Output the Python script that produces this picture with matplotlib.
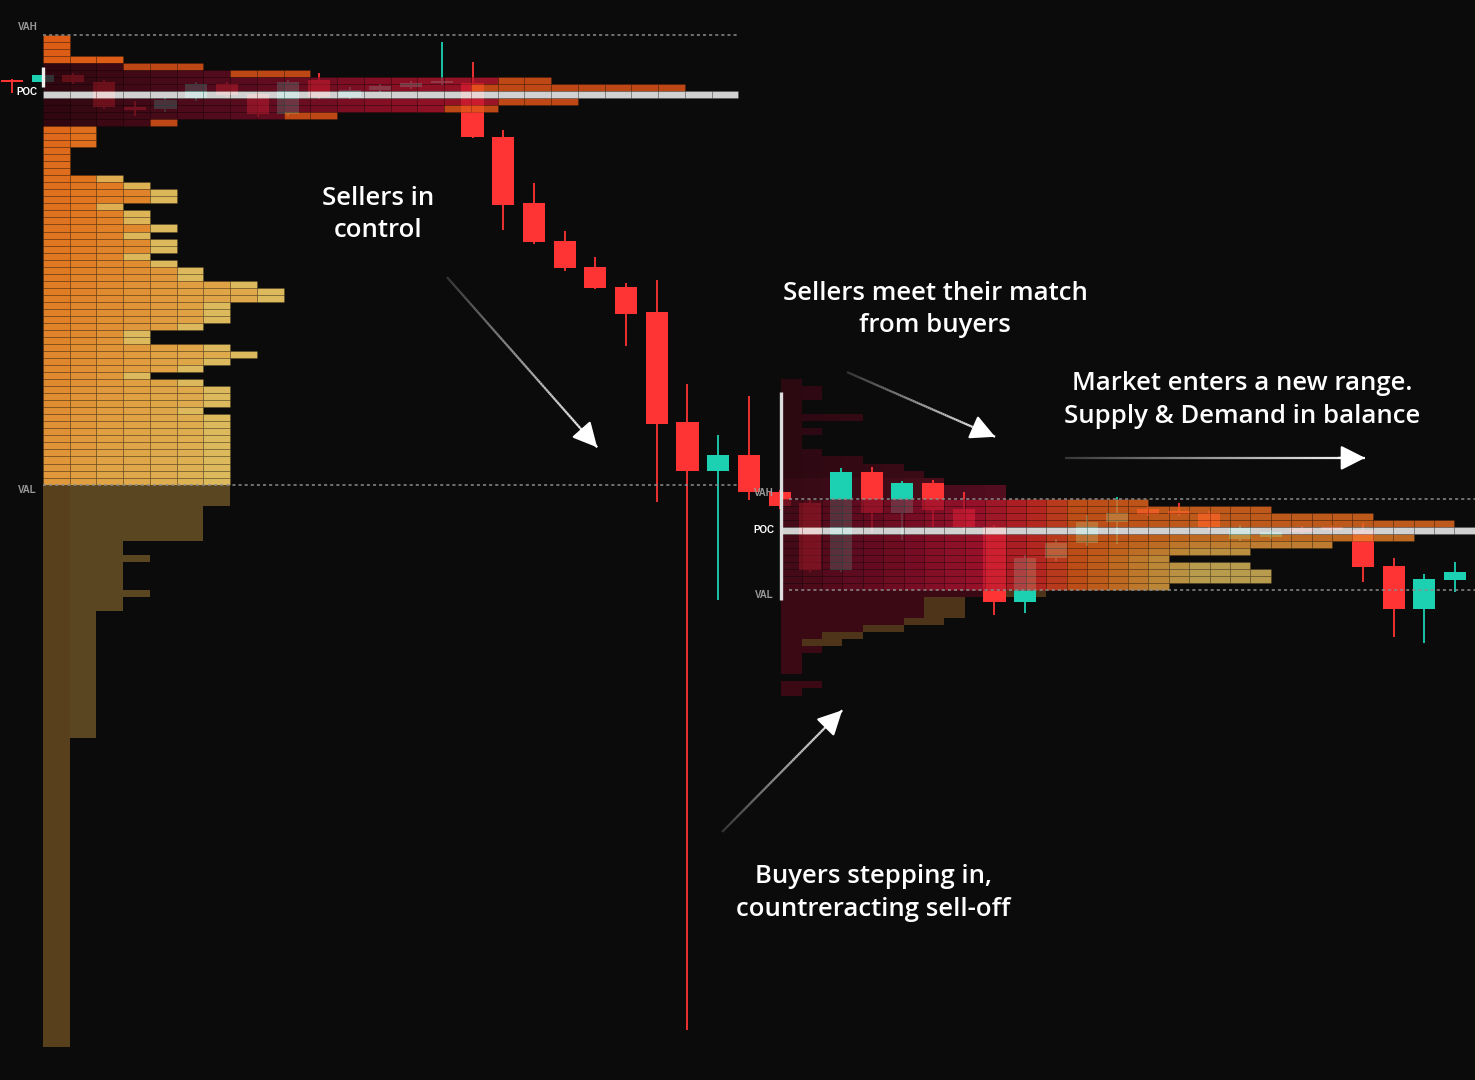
import numpy as np
from matplotlib import pyplot as plt
from matplotlib.colors import LinearSegmentedColormap, to_rgba
from matplotlib.collections import LineCollection

BG = '#0b0b0b'
UP = '#1bd1b2'
DOWN = '#fe3434'

# candles, one per bar, prices in ticks
candle_open = [137.6, 137.3, 138.2, 137.3, 133.7, 133.4, 135.0, 137.0, 135.6, 132.7,
               137.6, 135.1, 136.1, 136.6, 137.1, 137.1, 129.4, 120.1, 114.7, 111.0,
               108.1, 104.6, 88.9, 81.9, 84.2, 78.9, 77.4, 67.9, 81.8, 76.0,
               80.2, 76.5, 74.0, 63.3, 69.6, 71.7, 74.7, 76.5, 76.3, 75.9,
               72.3, 72.5, 73.8, 73.9, 73.5, 68.4, 62.3, 66.4]
candle_high = [137.7, 138.4, 138.5, 137.6, 134.5, 135.0, 137.3, 137.2, 135.9, 137.6,
               138.6, 136.5, 137.0, 137.4, 143.0, 140.1, 130.4, 122.9, 116.1, 112.4,
               108.7, 109.1, 94.3, 87.1, 92.6, 79.2, 78.0, 82.4, 82.5, 80.5,
               80.6, 78.9, 74.3, 70.0, 72.3, 75.7, 78.3, 77.0, 77.4, 76.3,
               74.2, 73.5, 74.1, 74.2, 74.5, 69.6, 67.3, 69.0]
candle_low = [135.7, 137.2, 137.0, 133.4, 132.5, 133.0, 134.6, 135.0, 132.3, 132.5,
              134.8, 134.8, 135.8, 136.3, 136.9, 129.3, 116.2, 114.2, 110.4, 107.8,
              99.7, 77.5, 2.4, 63.6, 77.8, 76.5, 67.5, 67.6, 73.1, 72.1,
              74.0, 73.5, 61.5, 61.7, 69.2, 71.3, 71.5, 75.5, 75.6, 73.5,
              72.0, 72.2, 73.0, 73.3, 66.1, 58.3, 57.5, 64.7]
candle_close = [137.3, 138.2, 137.3, 133.7, 133.3, 134.7, 137.0, 135.4, 132.7, 137.3,
                135.1, 136.1, 136.7, 137.1, 137.4, 129.4, 119.8, 114.5, 110.8, 108.0,
                104.3, 88.6, 81.9, 84.2, 78.9, 77.0, 67.9, 81.8, 76.0, 80.2,
                76.4, 74.0, 63.3, 69.6, 71.7, 74.7, 76.0, 75.8, 75.8, 74.0,
                73.8, 73.2, 73.2, 73.5, 68.3, 62.3, 66.6, 67.6]

# first volume profile: cells per price row, from the top row down
profile1_top = 143
profile1_counts = ([1, 1, 1, 3, 6, 10, 19, 24, 26, 20, 17, 11, 5, 2, 2, 2, 1, 1, 1, 1,
                    3, 4, 5, 5, 3, 4, 4, 5, 4, 5, 5, 4, 5, 6, 6, 8, 9, 9, 7, 7,
                    7, 6, 4, 4, 7, 8, 7, 6, 4, 6, 7, 7, 7, 6]
                   + [7] * 13 + [6] * 5 + [3, 3, 4, 3, 3, 3, 3, 4, 3, 3]
                   + [2] * 18 + [1] * 44)
profile1_hot = [139, 138, 137, 136, 135, 134, 133, 132, 131]
profile1_hot_tail = [3, 3, 2, 8, 0, 3, 2, 2, 1]
vah1, poc1, val1 = 144, 135, 80

# second volume profile
profile2_top = 94
profile2_counts = [1, 2, 2, 1, 1, 4, 1, 2, 1, 1, 2, 4, 6, 7, 8, 11, 11, 18, 24, 29,
                   33, 34, 31, 27, 23, 19, 23, 24, 24, 19, 13, 9, 9, 9, 8, 6, 4, 3, 2, 1,
                   1, 1, 0, 2, 1]
vah2, poc2, val2 = 78, 73, 65

hot_cmap = LinearSegmentedColormap.from_list('hot1', ['#3a0712', '#640b22', '#a3102b', '#cc1a2e'])
warm_cmap = LinearSegmentedColormap.from_list('warm', ['#dc5814', '#e07a22', '#e0a042', '#dcb95c'])
va2_cmap = LinearSegmentedColormap.from_list('va2', [(0, '#520a1c'), (0.25, '#860d28'), (0.45, '#b81432'),
                                                    (0.58, '#da2c26'), (0.68, '#e45c1a'), (0.78, '#e67c24'),
                                                    (0.9, '#e4a442'), (1.0, '#e0bc5e')])
dim_cmap = LinearSegmentedColormap.from_list('dim', ['#2c0811', '#3e0b18', '#580d21'])

GRID = (0, 0, 0, 0.22)


def with_alpha(c, a):
    r, g, b, _ = to_rgba(c)
    return (r, g, b, a)


def cells(ax, rows, cols, colors, x0, w, z, edge):
    ax.barh([r + 0.5 for r in rows], w, left=[x0 + c * w for c in cols], height=1.0,
            color=colors, edgecolor=edge, linewidth=0.5 if edge != 'none' else 0, zorder=z)


def draw_layers(ax, rows, cols, colors, zs, edges, x0, w):
    keys = sorted(set(zip(zs, edges)), key=lambda k: k[0])
    for z, e in keys:
        idx = [j for j in range(len(zs)) if zs[j] == z and edges[j] == e]
        cells(ax, [rows[j] for j in idx], [cols[j] for j in idx], [colors[j] for j in idx],
              x0, w, z, GRID if e else 'none')


def fade_arrow(ax, tail, head):
    xs = np.linspace(tail[0], head[0], 80)
    ys = np.linspace(tail[1], head[1], 80)
    pts = np.column_stack([xs, ys]).reshape(-1, 1, 2)
    segs = np.concatenate([pts[:-1], pts[1:]], axis=1)
    shade = np.linspace(0.22, 1.0, len(segs))
    ax.add_collection(LineCollection(segs, colors=[(s, s, s, 1) for s in shade],
                                     linewidths=1.6, zorder=8))
    ax.annotate('', xy=head, xytext=(xs[-8], ys[-8]),
                arrowprops=dict(arrowstyle='-|>,head_length=0.75,head_width=0.38', color='white',
                                lw=1.6, mutation_scale=20, shrinkA=0, shrinkB=0), zorder=9)


fig = plt.figure(figsize=(14.75, 10.8), dpi=100, facecolor=BG)
ax = fig.add_axes([0, 0, 1, 1])
ax.set_facecolor(BG)
ax.set_xlim(-0.39, 47.65)
ax.set_ylim(-4.69, 148.93)
ax.axis('off')

# candles
for i in range(len(candle_open)):
    o, h, l, c = candle_open[i], candle_high[i], candle_low[i], candle_close[i]
    col = UP if c >= o else DOWN
    ax.vlines(i, l, h, color=col, lw=1.3, zorder=2)
    ax.bar(i, max(abs(c - o), 0.3), bottom=min(o, c), width=0.72, color=col, zorder=2)

# first profile
x1, w1 = 1.01, 0.871
hot_tail = dict(zip(profile1_hot, profile1_hot_tail))
rows, cols, colors, zs, edges = [], [], [], [], []
for k, n in enumerate(profile1_counts):
    p = profile1_top - k
    for c in range(n):
        edge = True
        if p == poc1:
            colr, z = with_alpha('#e8e8e8', 0.9), 4
        elif p in hot_tail:
            if c >= n - hot_tail[p]:
                colr = with_alpha('#de5418', 0.85)
            else:
                colr = with_alpha(hot_cmap(min(c / 18.0, 1.0)), 0.8)
            z = 3
        elif p > 139:
            colr, z = warm_cmap(0.05), 3
        elif p >= val1:
            t_row = (130 - p) / 50.0
            t = 0.15 + 0.45 * t_row + 0.06 * c
            if n >= 3 and c == n - 1:
                t += 0.5
            colr, z = warm_cmap(min(t, 1.0)), 3
        else:
            colr, z, edge = ('#58401d' if c == 0 else '#5a4621'), 3, False
        rows.append(p)
        cols.append(c)
        colors.append(colr)
        zs.append(z)
        edges.append(edge)
draw_layers(ax, rows, cols, colors, zs, edges, x1, w1)

# second profile
x2, w2 = 25.05, 0.6645
rows, cols, colors, zs, edges = [], [], [], [], []
for k, n in enumerate(profile2_counts):
    p = profile2_top - k
    for c in range(n):
        edge = False
        if p == poc2:
            colr, z, edge = with_alpha('#e8e8e8', 0.9), 4, True
        elif p >= vah2:
            t = min(c / 12.0, 1.0) * 0.75 + (0.25 if p <= 80 else 0.0)
            colr, z = dim_cmap(t), 1
        elif p >= val2:
            warm = min(max((73.5 - p) / 4.5, 0.15), 1.0)
            t = 0.68 * min(c / 14.0, 1.0) + 0.32 * warm * min(max(c - 14, 0) / 6.0, 1.0)
            colr, z, edge = with_alpha(va2_cmap(t), 0.82), 3, True
        else:
            colr = '#4e3418' if c >= n - 2 and n > 2 else '#3a0914'
            z = 1
        rows.append(p)
        cols.append(c)
        colors.append(colr)
        zs.append(z)
        edges.append(edge)
draw_layers(ax, rows, cols, colors, zs, edges, x2, w2)

# value area lines and labels
dots = dict(color='#8c8c8c', lw=1.1, linestyle=(0, (2, 2)), zorder=5)
ax.hlines([vah1, val1], x1, 23.6, **dots)
ax.hlines([vah2, val2], 25.3, 47.65, **dots)
ax.vlines(x1, 136.6, 139.4, color='#eeeeee', lw=2.4, zorder=6)
ax.vlines(x2, 63.6, 93.2, color='#dddddd', lw=2.4, zorder=6)

lab = dict(ha='center', va='center', fontsize=7, fontweight='bold', family='Liberation Sans', zorder=7)
ax.text(0.5, 145.1, 'VAH', color='#9a9a9a', **lab)
ax.text(0.47, 135.8, 'POC', color='white', **lab)
ax.text(0.5, 79.2, 'VAL', color='#9a9a9a', **lab)
ax.text(24.5, 78.8, 'VAH', color='#9a9a9a', **lab)
ax.text(24.5, 73.5, 'POC', color='white', **lab)
ax.text(24.5, 64.3, 'VAL', color='#9a9a9a', **lab)

# annotations
note = dict(ha='center', va='center', color='white', fontsize=18.5, linespacing=1.4,
            fontweight='semibold', family=['Open Sans', 'DejaVu Sans'], zorder=9)
ax.text(11.92, 118.4, 'Sellers in\ncontrol', **note)
ax.text(30.07, 104.9, 'Sellers meet their match\nfrom buyers', **note)
ax.text(40.07, 92.0, 'Market enters a new range.\nSupply & Demand in balance', **note)
ax.text(28.05, 21.9, 'Buyers stepping in,\ncountreracting sell-off', **note)

fade_arrow(ax, (14.17, 109.5), (19.06, 85.3))
fade_arrow(ax, (27.2, 96.0), (32.02, 86.8))
fade_arrow(ax, (34.3, 83.8), (44.07, 83.8))
fade_arrow(ax, (23.13, 30.6), (27.04, 47.9))

fig.savefig('out.png', dpi=100, facecolor=BG)
